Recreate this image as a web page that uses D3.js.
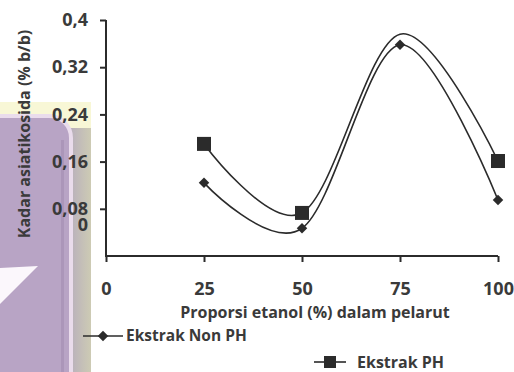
<!DOCTYPE html>
<html>
<head>
<meta charset="utf-8">
<script src="https://cdn.jsdelivr.net/npm/d3@7"></script>
<style>
  body { margin: 0; background: #fff; }
  svg { display: block; }
  svg text { font-family: "Open Sans", sans-serif; font-weight: bold; fill: #3a3a3a; }
</style>
</head>
<body>
<div id="chart"></div>
<script>
// Chart data
var proporsi = [25, 50, 75, 100];
var nonPH = [0.124, 0.047, 0.358, 0.095];
var ekstrakPH = [0.19, 0.073, 0.376, 0.161];
var phMarkerShown = [true, true, false, true];   // no square drawn at 75 in the original
var yTicks = [0.08, 0.16, 0.24, 0.32, 0.4];
var xTicks = [0, 25, 50, 75, 100];

var svgWidth = 514;
var svgHeight = 372;

var svg = d3.select("#chart")
    .append("svg")
    .attr("width", svgWidth)
    .attr("height", svgHeight);

// Watermark on the left edge of the scan
var wm = svg.append("g");
var edge = svg.append("defs").append("linearGradient")
    .attr("id", "edge").attr("x1", 0).attr("x2", 1);
edge.append("stop").attr("offset", "0%").attr("stop-color", "#b7adbd");
edge.append("stop").attr("offset", "100%").attr("stop-color", "#cdcbb4");
wm.append("rect")
    .attr("x", 0).attr("y", 102).attr("width", 91).attr("height", 270)
    .attr("fill", "#f8f7d6");
wm.append("rect")
    .attr("x", 68).attr("y", 128).attr("width", 23).attr("height", 244)
    .attr("fill", "url(#edge)");
wm.append("rect")
    .attr("x", -40).attr("y", 116).attr("width", 111).attr("height", 300)
    .attr("rx", 22)
    .attr("fill", "#b8a4c5")
    .attr("stroke", "#eadcec").attr("stroke-width", 4);
wm.append("rect")
    .attr("x", 61).attr("y", 140).attr("width", 3).attr("height", 232)
    .attr("fill", "#ab96b9");
wm.append("path")
    .attr("d", "M0,268 L38,266 L0,304 Z")
    .attr("fill", "#fbf7fc");

// Scales
var x = d3.scaleLinear().domain([0, 100]).range([106, 498]);
var y = d3.scaleLinear().domain([0, 0.4]).range([256, 20]);

var ink = "#2b2b2b";

// Axes
var yAxis = svg.append("g")
    .attr("transform", "translate(" + x(0) + ",0)")
    .call(d3.axisLeft(y).tickValues(yTicks).tickSize(6).tickPadding(12)
        .tickFormat(d => d3.format(".2~f")(d).replace(".", ",")));
yAxis.select(".domain").attr("d", "M0," + y(0.4) + "V" + (y(0) + 1));

var xAxis = svg.append("g")
    .attr("transform", "translate(0," + y(0) + ")")
    .call(d3.axisBottom(x).tickValues(xTicks).tickSize(6).tickPadding(20));
xAxis.select(".domain").attr("d", "M" + x(0) + ",0H" + x(100));

svg.selectAll(".domain, .tick line")
    .attr("stroke", ink).attr("stroke-width", 2);
svg.selectAll(".tick text")
    .style("font-size", "18px");

// stray "0" label printed just under 0,08
svg.append("text")
    .attr("x", x(0) - 18)
    .attr("y", y(0.08) + 16)
    .attr("dy", "0.32em")
    .attr("text-anchor", "end")
    .style("font-size", "18px")
    .text("0");

// Axis titles
svg.append("text")
    .attr("transform", "translate(30,134) rotate(-90)")
    .attr("text-anchor", "middle")
    .style("font-size", "16px")
    .text("Kadar asiatikosida (% b/b)");

svg.append("text")
    .attr("x", 315)
    .attr("y", 318)
    .attr("text-anchor", "middle")
    .style("font-size", "16px")
    .text("Proporsi etanol (%) dalam pelarut");

// Smoothed lines
var line = d3.line()
    .x(d => x(d[0]))
    .y(d => y(d[1]))
    .curve(d3.curveCatmullRom.alpha(0));

var series = [
    { name: "Ekstrak Non PH", values: nonPH },
    { name: "Ekstrak PH", values: ekstrakPH }
];

series.forEach(function(s) {
    svg.append("path")
        .datum(proporsi.map((p, i) => [p, s.values[i]]))
        .attr("d", line)
        .attr("fill", "none")
        .attr("stroke", ink)
        .attr("stroke-width", 1.6);
});

var diamond = d3.symbol().type(d3.symbolDiamond2).size(70);

svg.append("g").selectAll("path")
    .data(proporsi.map((p, i) => [p, nonPH[i]]))
    .enter()
    .append("path")
    .attr("d", diamond)
    .attr("transform", d => "translate(" + x(d[0]) + "," + y(d[1]) + ")")
    .attr("fill", ink);

svg.append("g").selectAll("rect")
    .data(proporsi.map((p, i) => [p, ekstrakPH[i], phMarkerShown[i]]).filter(d => d[2]))
    .enter()
    .append("rect")
    .attr("x", d => x(d[0]) - 7)
    .attr("y", d => y(d[1]) - 7)
    .attr("width", 14)
    .attr("height", 14)
    .attr("fill", ink);

// Legend
var leg1 = svg.append("g").attr("transform", "translate(83,336)");
leg1.append("line").attr("x1", 0).attr("x2", 40).attr("stroke", ink).attr("stroke-width", 1.6);
leg1.append("path").attr("d", diamond).attr("transform", "translate(20,0)").attr("fill", ink);
leg1.append("text")
    .attr("x", 43).attr("dy", "0.35em")
    .style("font-size", "15.5px")
    .text("Ekstrak Non PH");

var leg2 = svg.append("g").attr("transform", "translate(314,362)");
leg2.append("line").attr("x1", 0).attr("x2", 32).attr("stroke", ink).attr("stroke-width", 1.6);
leg2.append("rect").attr("x", 10).attr("y", -6).attr("width", 12).attr("height", 12).attr("fill", ink);
leg2.append("text")
    .attr("x", 43).attr("dy", "0.35em")
    .style("font-size", "16px")
    .text("Ekstrak PH");
</script>
</body>
</html>
